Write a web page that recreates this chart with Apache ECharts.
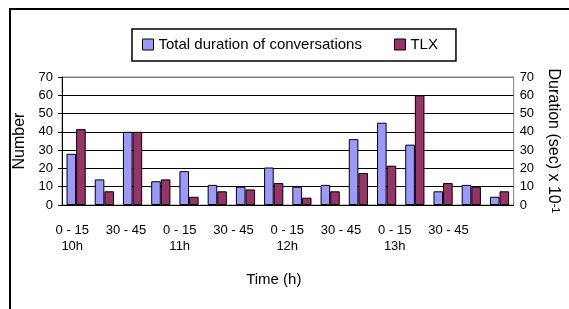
<!DOCTYPE html>
<html><head><meta charset="utf-8">
<script src="https://cdn.jsdelivr.net/npm/echarts@6/dist/echarts.min.js"></script>
<style>html,body{margin:0;padding:0;background:#fff}#c{width:569px;height:309px}</style>
</head><body><div id="c"></div>
<script>
const hours = ['10h', '11h', '12h', '13h'];
const quarters = ['0 - 15', '15 - 30', '30 - 45', '45 - 60'];
const categories = [
  '10h 0 - 15', '10h 15 - 30', '10h 30 - 45', '10h 45 - 60',
  '11h 0 - 15', '11h 15 - 30', '11h 30 - 45', '11h 45 - 60',
  '12h 0 - 15', '12h 15 - 30', '12h 30 - 45', '12h 45 - 60',
  '13h 0 - 15', '13h 15 - 30', '13h 30 - 45', '13h 45 - 60'
];
const durationValues = [28, 14, 40, 13, 18.5, 11, 10, 20.5, 10, 11, 36, 45, 33, 7.5, 11, 4.5];
const tlxValues = [41.5, 7.5, 40, 14, 4.5, 7.5, 8.5, 12, 4, 7.5, 17.5, 21.5, 60, 12, 10, 7.5];
const yTicks = [0, 10, 20, 30, 40, 50, 60, 70];

const F = '"Liberation Sans", Arial, sans-serif';
const chart = echarts.init(document.getElementById('c'), null, {renderer: 'canvas'});
const option = {
  animation: false,
  backgroundColor: '#fff',
  textStyle: {fontFamily: F, color: '#000'},
  graphic: [{
    type: 'rect', silent: true, z: 100,
    shape: {x: 10, y: 9, width: 620, height: 420},
    style: {fill: 'none', stroke: '#000', lineWidth: 2}
  }],
  legend: {
    left: 132, top: 29,
    padding: [8, 18, 9, 10],
    itemGap: 32, itemWidth: 11, itemHeight: 11,
    borderColor: '#000', borderWidth: 1.5,
    icon: 'rect',
    itemStyle: {borderColor: '#000', borderWidth: 1},
    textStyle: {fontSize: 15, color: '#000', fontFamily: F},
    data: ['Total duration of conversations', 'TLX']
  },
  grid: [
    {left: 62, right: 38, top: 77, bottom: 104, show: true, borderColor: '#808080', borderWidth: 1, backgroundColor: 'transparent'},
    {left: 58.8, width: 430, top: 77, bottom: 104}
  ],
  xAxis: [
    {
      type: 'category', gridIndex: 0, data: categories,
      axisLine: {lineStyle: {color: '#000', width: 1}},
      axisTick: {length: 4, lineStyle: {color: '#000'}},
      axisLabel: {show: false}
    },
    {
      type: 'category', gridIndex: 1, data: categories,
      axisLine: {show: false}, axisTick: {show: false},
      axisLabel: {
        interval: 1, fontSize: 13, color: '#000', fontFamily: F, lineHeight: 16, margin: 17,
        formatter: function (v, i) {
          const q = quarters[i % 4];
          return (i % 4 === 0) ? q + '\n' + hours[Math.floor(i / 4)] : q;
        }
      },
      name: 'Time (h)', nameLocation: 'middle', nameGap: 67,
      nameTextStyle: {fontSize: 15, color: '#000', fontFamily: F}
    }
  ],
  yAxis: [
    {
      type: 'value', gridIndex: 0, min: yTicks[0], max: yTicks[yTicks.length - 1], interval: 10, position: 'left',
      axisLine: {show: true, lineStyle: {color: '#000', width: 1}},
      axisTick: {show: true, length: 4, lineStyle: {color: '#000'}},
      axisLabel: {fontSize: 13, color: '#000', margin: 9, fontFamily: F},
      splitLine: {show: true, lineStyle: {color: ['#000', '#000', '#000', '#000', '#000', '#000', '#000', '#808080'], width: 1}},
      name: 'Number', nameLocation: 'middle', nameGap: 29,
      nameTextStyle: {fontSize: 16, color: '#000', fontFamily: F}
    },
    {
      type: 'value', gridIndex: 0, min: yTicks[0], max: yTicks[yTicks.length - 1], interval: 10, position: 'right',
      axisLine: {show: false}, axisTick: {show: false},
      axisLabel: {fontSize: 13, color: '#000', margin: 6, fontFamily: F},
      splitLine: {show: false},
      name: 'Duration (sec) x 10{s|-1}', nameLocation: 'middle', nameGap: 28, nameRotate: -90,
      nameTextStyle: {fontSize: 16, color: '#000', fontFamily: F, rich: {s: {fontSize: 11, fontFamily: F, color: '#000', verticalAlign: 'top'}}}
    },
    {type: 'value', gridIndex: 1, show: false, min: 0, max: 70}
  ],
  series: [
    {
      name: 'Total duration of conversations', type: 'bar', xAxisIndex: 0, yAxisIndex: 1,
      data: durationValues, barGap: '0%', barCategoryGap: '32%',
      itemStyle: {color: '#9999FF', borderColor: '#000', borderWidth: 1}
    },
    {
      name: 'TLX', type: 'bar', xAxisIndex: 0, yAxisIndex: 0,
      data: tlxValues, barGap: '0%', barCategoryGap: '32%',
      itemStyle: {color: '#993366', borderColor: '#000', borderWidth: 1}
    }
  ]
};
chart.setOption(option);
</script>
</body></html>
